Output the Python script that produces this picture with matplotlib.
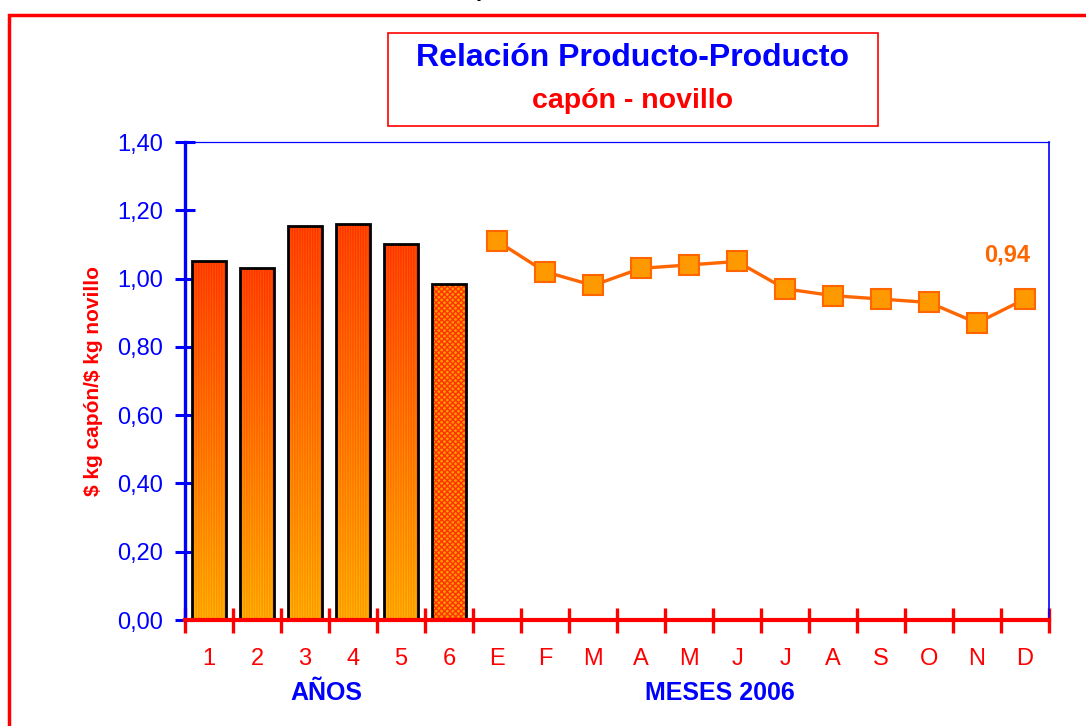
import numpy as np
import matplotlib
matplotlib.use('Agg')
import matplotlib.pyplot as plt
from matplotlib.patches import Rectangle

plt.rcParams['font.family'] = ['Liberation Sans', 'DejaVu Sans']

# data
years = ['1', '2', '3', '4', '5', '6']
year_vals = [1.05, 1.03, 1.155, 1.16, 1.10, 0.985]
months = ['E', 'F', 'M', 'A', 'M', 'J', 'J', 'A', 'S', 'O', 'N', 'D']
month_vals = [1.11, 1.02, 0.98, 1.03, 1.04, 1.05, 0.97, 0.95, 0.94, 0.93, 0.87, 0.94]
last_label = '0,94'
yticks = [0.0, 0.2, 0.4, 0.6, 0.8, 1.0, 1.2, 1.4]

W, H = 1086, 726
fig = plt.figure(figsize=(W / 100, H / 100), dpi=100)
ax = fig.add_axes([185 / W, 1 - 620 / H, 864 / W, 478 / H])

BLUE = '#0000FF'
RED = '#FF0000'
ORANGE = '#FF6600'

n_years = len(years)
xb = np.arange(n_years)
xm = np.arange(n_years, n_years + len(months))
bw = 0.7

# gradient with thin vertical stripes for the bars
grad = np.linspace(0, 1, 64)[:, None]
top_c = np.array([1.0, 0.2, 0.0])
bot_c = np.array([1.0, 0.6, 0.0])
img = top_c * (1 - grad[..., None]) + bot_c * grad[..., None]
img = np.repeat(img, 40, axis=1)
stripes = (np.arange(40) % 3 == 0)
img[:, stripes, 1] = np.clip(img[:, stripes, 1] + 0.15, 0, 1)

for i, v in enumerate(year_vals):
    if i < n_years - 1:
        bar = ax.bar(xb[i], v, width=bw, facecolor='none', edgecolor='black',
                     linewidth=2, zorder=3)[0]
        im = ax.imshow(img, extent=[xb[i] - bw / 2, xb[i] + bw / 2, 0, v],
                       aspect='auto', zorder=2, interpolation='bilinear')
        im.set_clip_path(bar)
    else:
        ax.bar(xb[i], v, width=bw, facecolor='#FF9900', edgecolor='#FF3300',
               hatch='xxxxxx', linewidth=0, zorder=2)
        ax.bar(xb[i], v, width=bw, fill=False, edgecolor='black',
               linewidth=2, zorder=3)

ax.plot(xm, month_vals, color=ORANGE, lw=2.4, marker='s', ms=14,
        mfc='#FF9900', mec=ORANGE, mew=1.5, zorder=4, clip_on=False)
ax.text(xm[-1] - 0.37, month_vals[-1] + 0.13, last_label, color=ORANGE,
        fontsize=17, fontweight='bold', ha='center', va='center')

ax.set_xlim(-0.5, len(years) + len(months) - 0.5)
ax.set_ylim(0, 1.4)

ax.set_yticks(yticks)
ax.set_yticklabels([f'{t:.2f}'.replace('.', ',') for t in yticks],
                   color=BLUE, fontsize=17)
ax.tick_params(axis='y', direction='inout', length=14, width=2.2,
               color=BLUE, pad=9)

ax.set_xticks(np.arange(-0.5, len(years) + len(months), 1.0))
ax.set_xticklabels([])
ax.tick_params(axis='x', which='major', direction='inout', length=18,
               width=2.4, color=RED)
ax.set_xticks(np.arange(len(years) + len(months)), minor=True)
ax.set_xticklabels(years + months, minor=True, color=RED, fontsize=17)
ax.tick_params(axis='x', which='minor', length=0, pad=20)

ax.spines['left'].set_color(BLUE)
ax.spines['left'].set_linewidth(2.4)
ax.spines['right'].set_color(BLUE)
ax.spines['right'].set_linewidth(1.2)
ax.spines['top'].set_color(BLUE)
ax.spines['top'].set_linewidth(0.9)
ax.spines['bottom'].set_color(RED)
ax.spines['bottom'].set_linewidth(3)
ax.spines['bottom'].set_zorder(5)

ax.set_ylabel(r'\$ kg capón/\$ kg novillo', color=RED, fontsize=15,
              fontweight='bold')
ax.yaxis.set_label_coords(-82 / 864, 0.5)

# group labels under the x axis
fig.text(326 / W, 1 - 693 / H, 'AÑOS', color=BLUE, fontsize=18,
         fontweight='bold', ha='center', va='center')
fig.text(720 / W, 1 - 693 / H, 'MESES 2006', color=BLUE, fontsize=18,
         fontweight='bold', ha='center', va='center')

# outer red frame and the title box
fig.patches.append(Rectangle((9 / W, -0.1), 1.2, 1.1 - 15 / H,
                             transform=fig.transFigure, fill=False,
                             edgecolor=RED, lw=2.5, clip_on=False))
fig.patches.append(Rectangle((388 / W, 1 - 126 / H), 490 / W, 93 / H,
                             transform=fig.transFigure, fill=False,
                             edgecolor=RED, lw=1.2))
fig.text(633 / W, 1 - 58 / H, 'Relación Producto-Producto', color=BLUE,
         fontsize=23, fontweight='bold', ha='center', va='center')
fig.text(633 / W, 1 - 101 / H, 'capón - novillo', color=RED,
         fontsize=20.5, fontweight='bold', ha='center', va='center')
# cut-off heading above the frame
fig.text(482 / W, 1 + 4 / H, 'p', color='black', fontsize=16,
         fontweight='bold', ha='center', va='baseline')

fig.savefig('out.png', dpi=100)
